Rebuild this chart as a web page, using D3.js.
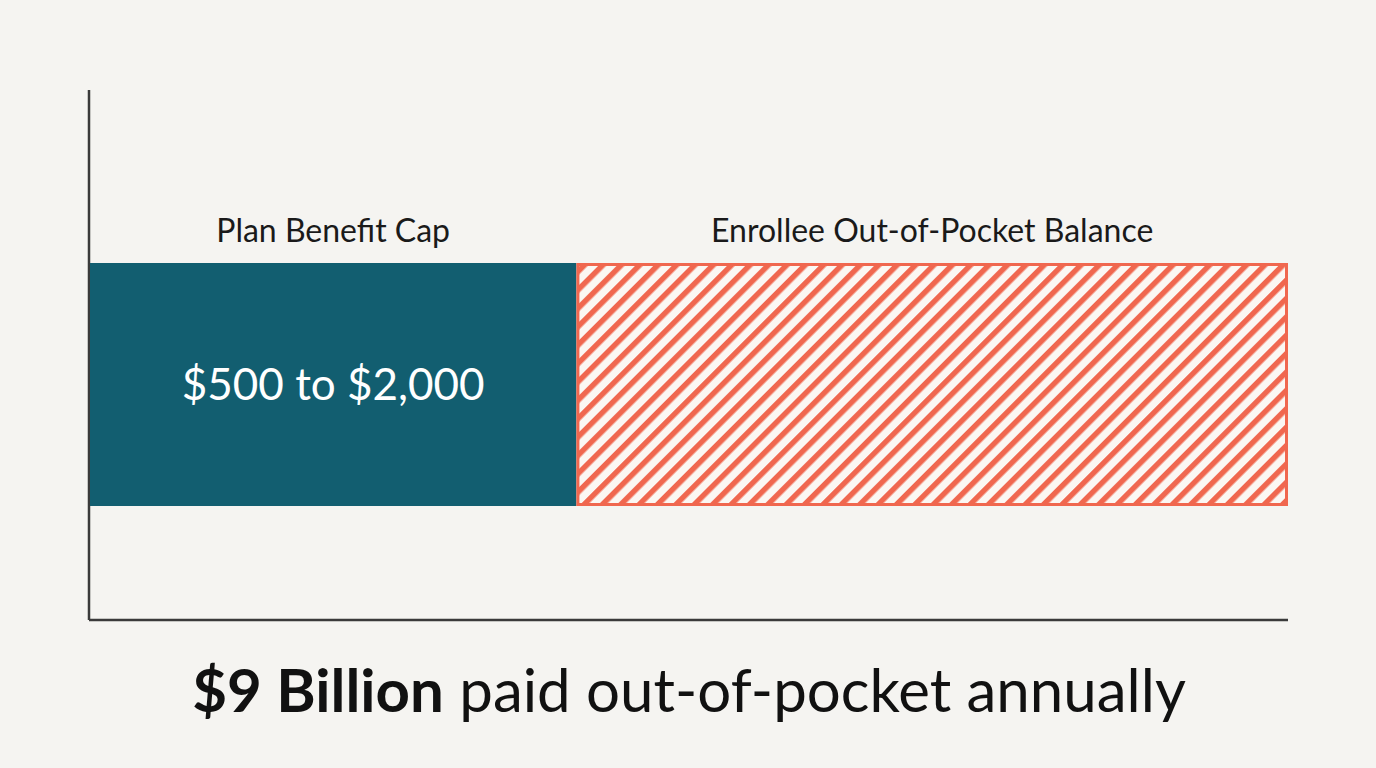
<!DOCTYPE html>
<html>
<head>
<meta charset="utf-8">
<script src="https://cdn.jsdelivr.net/npm/d3@7"></script>
<style>
  body { margin: 0; background: #f5f4f1; }
  text { font-family: Lato, "Open Sans", sans-serif; }
</style>
</head>
<body>
<div id="chart"></div>
<script>
// segments of the single stacked bar (relative widths)
var segments = ["Plan Benefit Cap", "Enrollee Out-of-Pocket Balance"];
var shares = [40.6, 59.4];
var innerLabels = ["$500 to $2,000", ""];
var footBold = "$9 Billion";
var footRest = " paid out-of-pocket annually";

var W = 1376, H = 768;
var margin = { top: 90, right: 88, bottom: 148, left: 89 };

var svg = d3.select("#chart").append("svg")
    .attr("width", W).attr("height", H)
    .style("background", "#f5f4f1");

var defs = svg.append("defs");
var pat = defs.append("pattern")
    .attr("id", "hatch")
    .attr("patternUnits", "userSpaceOnUse")
    .attr("width", 13).attr("height", 13)
    .attr("patternTransform", "rotate(45)");
pat.append("rect").attr("width", 13).attr("height", 13).attr("fill", "#fbf7f3");
pat.append("rect").attr("width", 5.5).attr("height", 13).attr("fill", "#f0674f");

var starts = d3.cumsum([0].concat(shares)).slice(0, shares.length);

var x = d3.scaleLinear()
    .domain([0, d3.sum(shares)])
    .range([margin.left + 1, W - margin.right]);

// bar occupies 263..506 within the plot
var y = d3.scaleBand()
    .domain(["bar"])
    .range([263, 506]);

// axes lines
svg.append("line")
    .attr("x1", margin.left).attr("x2", margin.left)
    .attr("y1", margin.top).attr("y2", H - margin.bottom)
    .attr("stroke", "#3a3a3a").attr("stroke-width", 2.5);
svg.append("line")
    .attr("x1", margin.left).attr("x2", W - margin.right)
    .attr("y1", H - margin.bottom).attr("y2", H - margin.bottom)
    .attr("stroke", "#3a3a3a").attr("stroke-width", 2.5);

var g = svg.append("g");
g.selectAll("rect")
    .data(segments)
    .join("rect")
    .attr("x", (d, i) => i === 0 ? x(starts[i]) : x(starts[i]) + 1.5)
    .attr("y", (d, i) => i === 0 ? y("bar") : y("bar") + 1.5)
    .attr("width", (d, i) => i === 0 ? x(starts[i] + shares[i]) - x(starts[i]) : x(starts[i] + shares[i]) - x(starts[i]) - 3)
    .attr("height", (d, i) => i === 0 ? y.bandwidth() : y.bandwidth() - 3)
    .attr("fill", (d, i) => i === 0 ? "#125e70" : "url(#hatch)")
    .attr("stroke", (d, i) => i === 0 ? "none" : "#f0674f")
    .attr("stroke-width", 3);

g.selectAll(".seglabel")
    .data(segments)
    .join("text")
    .attr("class", "seglabel")
    .attr("x", (d, i) => x(starts[i] + shares[i] / 2))
    .attr("y", y("bar") - 21)
    .attr("text-anchor", "middle")
    .attr("font-size", 32)
    .attr("fill", "#1a1a1a")
    .text(d => d);

g.selectAll(".inner")
    .data(innerLabels)
    .join("text")
    .attr("class", "inner")
    .attr("x", (d, i) => x(starts[i] + shares[i] / 2))
    .attr("y", y("bar") + y.bandwidth() / 2)
    .attr("dy", "0.35em")
    .attr("text-anchor", "middle")
    .attr("font-size", 44)
    .attr("fill", "#ffffff")
    .text(d => d);

var foot = svg.append("text")
    .attr("x", W / 2 + 1)
    .attr("y", 712)
    .attr("text-anchor", "middle")
    .attr("font-size", 60)
    .attr("fill", "#111");
foot.append("tspan").attr("font-weight", "bold").text(footBold);
foot.append("tspan").text(footRest);
</script>
</body>
</html>
